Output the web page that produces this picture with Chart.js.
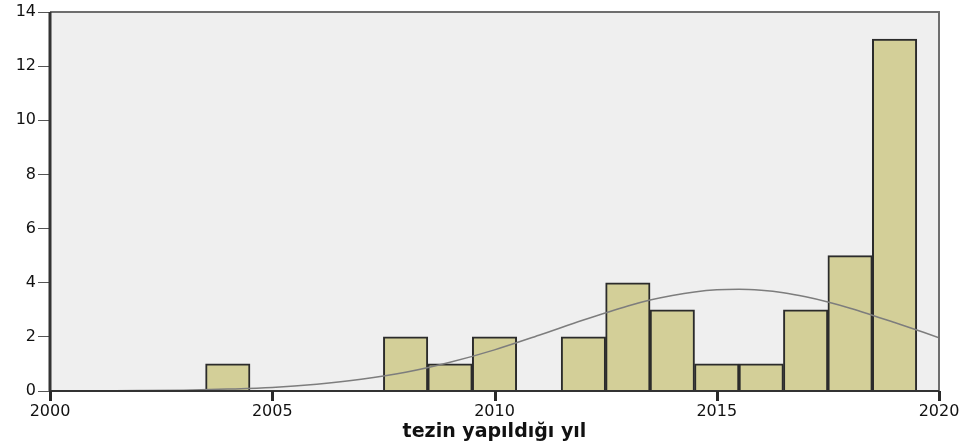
<!DOCTYPE html>
<html>
<head>
<meta charset="utf-8">
<script src="https://cdn.jsdelivr.net/npm/chart.js@4"></script>
<style>
  html, body { margin: 0; padding: 0; background: #fff; }
  #c { display: block; }
</style>
</head>
<body>
<canvas id="c" width="963" height="443"></canvas>
<script>
// histogram bins (year centres) and counts
const years = [2004, 2008, 2009, 2010, 2012, 2013, 2014, 2015, 2016, 2017, 2018, 2019];
const counts = [1, 2, 1, 2, 2, 4, 3, 1, 1, 3, 5, 13];

// normal curve
const curveYears = [2000, 2001, 2002, 2003, 2004, 2005, 2006, 2007, 2008, 2009, 2010,
  2011, 2012, 2013, 2013.5, 2014, 2014.5, 2015, 2015.5, 2016, 2016.5, 2017, 2017.5,
  2018, 2019, 2020];
const curveValues = [0.00, 0.01, 0.015, 0.03, 0.07, 0.13, 0.25, 0.43, 0.69, 1.06, 1.52,
  2.06, 2.62, 3.14, 3.36, 3.53, 3.66, 3.74, 3.76, 3.72, 3.63, 3.48, 3.29,
  3.06, 2.53, 1.97];

const xTicks = [2000, 2005, 2010, 2015, 2020];
const yTicks = [0, 2, 4, 6, 8, 10, 12, 14];
const xTitle = 'tezin yapıldığı yıl';

const frame = {
  id: 'frame',
  beforeDraw(chart) {
    const { ctx, chartArea: a } = chart;
    ctx.save();
    ctx.fillStyle = '#efefef';
    ctx.fillRect(a.left, a.top, a.right - a.left, a.bottom - a.top);
    ctx.restore();
  },
  afterDraw(chart) {
    const { ctx, chartArea: a } = chart;
    const xs = chart.scales.x;
    ctx.save();
    ctx.strokeStyle = '#6e6e6e';
    ctx.lineWidth = 2;
    ctx.beginPath();
    ctx.moveTo(a.left, a.top);
    ctx.lineTo(a.right, a.top);
    ctx.lineTo(a.right, a.bottom);
    ctx.stroke();
    ctx.strokeStyle = '#333';
    ctx.lineWidth = 3;
    ctx.beginPath();
    ctx.moveTo(a.left, a.top);
    ctx.lineTo(a.left, a.bottom);
    ctx.stroke();
    ctx.lineWidth = 2;
    ctx.beginPath();
    ctx.moveTo(a.left, a.bottom);
    ctx.lineTo(a.right, a.bottom);
    ctx.stroke();
    // x tick marks below the axis
    ctx.fillStyle = '#2a2a2a';
    for (const v of xTicks) {
      const px = Math.round(xs.getPixelForValue(v));
      ctx.fillRect(px - 1, a.bottom, 3, 10);
    }
    ctx.restore();
  }
};

new Chart(document.getElementById('c'), {
  data: {
    datasets: [
      {
        type: 'line',
        data: curveYears.map((y, i) => ({ x: y, y: curveValues[i] })),
        borderColor: '#7d7d7d',
        borderWidth: 1.5,
        pointRadius: 0,
        cubicInterpolationMode: 'monotone',
        order: 0
      },
      {
        type: 'bar',
        data: years.map((y, i) => ({ x: y, y: counts[i] })),
        backgroundColor: '#d3cf98',
        borderColor: '#2b2b2b',
        borderWidth: 2,
        barPercentage: 1,
        categoryPercentage: 1,
        order: 1
      }
    ]
  },
  options: {
    responsive: false,
    animation: false,
    layout: { padding: { top: 12, right: 24, left: 0, bottom: 0 } },
    plugins: { legend: { display: false }, tooltip: { enabled: false } },
    scales: {
      x: {
        type: 'linear',
        offset: false,
        min: 2000,
        max: 2020,
        afterBuildTicks: s => { s.ticks = xTicks.map(v => ({ value: v })); },
        afterFit: s => { s.height = 52; },
        ticks: {
          color: '#111',
          font: { family: 'DejaVu Sans', size: 16 },
          padding: 3,
          maxRotation: 0,
          callback: v => String(v)
        },
        grid: { display: false },
        border: { display: false },
        title: {
          display: true,
          text: xTitle,
          color: '#111',
          font: { family: 'DejaVu Sans', size: 19, weight: 'bold' },
          padding: { top: 0, bottom: 0 }
        }
      },
      y: {
        min: 0,
        max: 14,
        afterBuildTicks: s => { s.ticks = yTicks.map(v => ({ value: v })); },
        afterFit: s => { s.width = 50; },
        ticks: {
          color: '#111',
          font: { family: 'DejaVu Sans', size: 16 },
          padding: 2
        },
        grid: { drawOnChartArea: false, drawTicks: true, tickLength: 12, color: '#555', lineWidth: 1 },
        border: { display: false }
      }
    }
  },
  plugins: [frame]
});
</script>
</body>
</html>
